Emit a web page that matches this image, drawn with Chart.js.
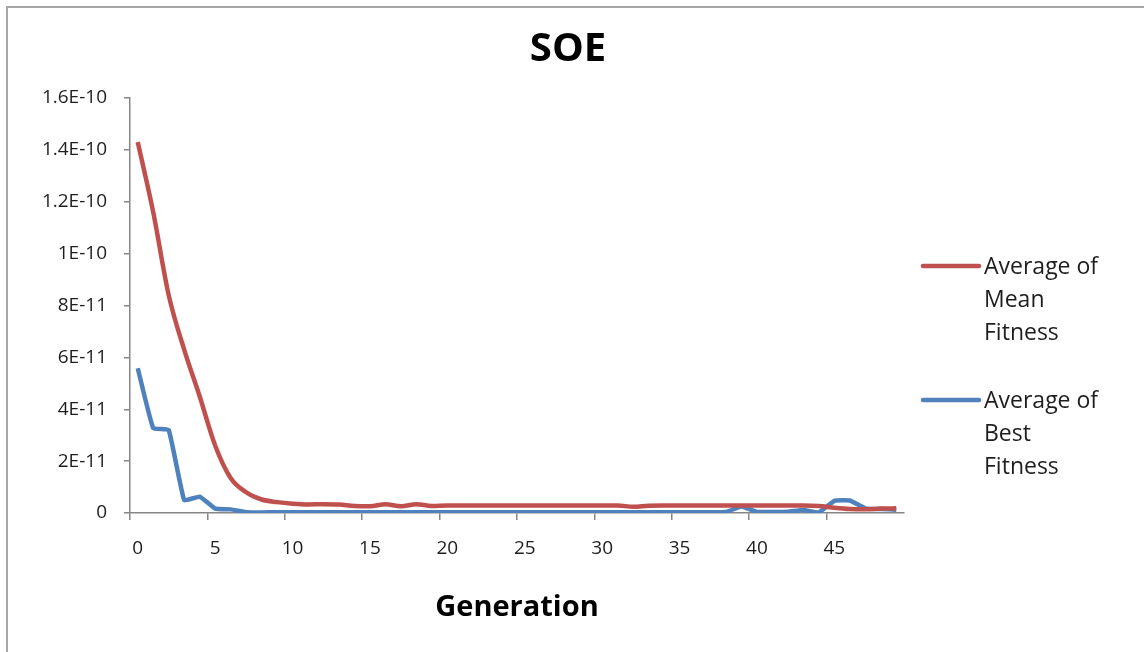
<!DOCTYPE html>
<html>
<head>
<meta charset="utf-8">
<title>SOE</title>
<script src="https://cdn.jsdelivr.net/npm/chart.js@4/dist/chart.umd.min.js"></script>
<style>
  html, body { margin: 0; padding: 0; background: #fff; overflow: hidden; }
  #frame {
    position: absolute; left: 6px; top: 6px; width: 1200px; height: 700px;
    border: 2px solid #a6a6a6; box-sizing: border-box;
  }
  #wrap { position: absolute; left: 0; top: 0; width: 1144px; height: 652px; }
  #soeChart { display: block; }
</style>
</head>
<body>
<div id="frame"></div>
<div id="wrap"><canvas id="soeChart" width="1144" height="652"></canvas></div>
<script>
const chartTitle = "SOE";
const generations = Array.from({ length: 50 }, (_, i) => String(i));

const meanFitness = [
  14.3e-11, 11.6e-11, 8.4e-11, 6.3e-11, 4.5e-11, 2.6e-11, 1.35e-11, 0.8e-11, 0.52e-11, 0.42e-11,
  0.36e-11, 0.33e-11, 0.34e-11, 0.33e-11, 0.27e-11, 0.26e-11, 0.34e-11, 0.26e-11, 0.34e-11, 0.27e-11,
  0.29e-11, 0.29e-11, 0.29e-11, 0.29e-11, 0.29e-11, 0.29e-11, 0.29e-11, 0.29e-11, 0.29e-11, 0.29e-11,
  0.29e-11, 0.29e-11, 0.24e-11, 0.28e-11, 0.29e-11, 0.29e-11, 0.29e-11, 0.29e-11, 0.29e-11, 0.29e-11,
  0.29e-11, 0.29e-11, 0.29e-11, 0.29e-11, 0.27e-11, 0.2e-11, 0.15e-11, 0.14e-11, 0.17e-11, 0.18e-11,
];

const bestFitness = [
  5.58e-11, 3.27e-11, 3.2e-11, 0.5e-11, 0.63e-11, 0.17e-11, 0.14e-11, 0.03e-11, 0.02e-11, 0.03e-11,
  0.03e-11, 0.03e-11, 0.03e-11, 0.03e-11, 0.03e-11, 0.03e-11, 0.03e-11, 0.03e-11, 0.03e-11, 0.03e-11,
  0.03e-11, 0.03e-11, 0.03e-11, 0.03e-11, 0.03e-11, 0.03e-11, 0.03e-11, 0.03e-11, 0.03e-11, 0.03e-11,
  0.03e-11, 0.03e-11, 0.03e-11, 0.03e-11, 0.03e-11, 0.03e-11, 0.03e-11, 0.03e-11, 0.04e-11, 0.25e-11,
  0.04e-11, 0.04e-11, 0.05e-11, 0.12e-11, 0.02e-11, 0.47e-11, 0.48e-11, 0.18e-11, 0.15e-11, 0.13e-11,
];

const yTickLabels = ["0", "2E-11", "4E-11", "6E-11", "8E-11", "1E-10", "1.2E-10", "1.4E-10", "1.6E-10"];
const legendLines = [
  ["Average of", "Mean", "Fitness"],
  ["Average of", "Best", "Fitness"],
];

const FONT = "'Open Sans', 'Liberation Sans', sans-serif";
const AXIS_GRAY = "#868686";

// title centred on the whole canvas + legend on the right with wrapped text
const titleAndLegend = {
  id: "titleAndLegend",
  afterDraw(chart) {
    const { ctx, chartArea, width } = chart;
    ctx.save();
    ctx.font = `bold 40px ${FONT}`;
    ctx.fillStyle = "#000";
    ctx.textAlign = "center";
    ctx.textBaseline = "middle";
    ctx.fillText(chartTitle, width / 2 - 4, 50);

    const lineX = chartArea.right + 19;
    const textX = chartArea.right + 80;
    const blockTops = [chartArea.top + 176, chartArea.top + 310];
    ctx.font = `23px ${FONT}`;
    ctx.fillStyle = "#1e1e1e";
    ctx.textAlign = "left";
    ctx.textBaseline = "alphabetic";
    chart.data.datasets.forEach((ds, i) => {
      const base = blockTops[i];
      ctx.strokeStyle = ds.borderColor;
      ctx.lineWidth = 4.5;
      ctx.lineCap = "round";
      ctx.beginPath();
      ctx.moveTo(lineX, base - 8);
      ctx.lineTo(lineX + 56, base - 8);
      ctx.stroke();
      legendLines[i].forEach((line, j) => {
        ctx.fillText(line, textX, base + j * 33);
      });
    });
    ctx.restore();
  },
};

new Chart(document.getElementById("soeChart"), {
  type: "line",
  data: {
    labels: generations,
    datasets: [
      {
        label: "Average of Mean Fitness",
        data: meanFitness,
        borderColor: "#C0504D",
        borderWidth: 4.5,
        cubicInterpolationMode: "monotone",
        pointRadius: 0,
      },
      {
        label: "Average of Best Fitness",
        data: bestFitness,
        borderColor: "#4F81BD",
        borderWidth: 4.5,
        tension: 0.1,
        borderJoinStyle: "round",
        pointRadius: 0,
      },
    ],
  },
  options: {
    responsive: false,
    animation: false,
    devicePixelRatio: 1,
    layout: { padding: { left: 0, right: 240, top: 98, bottom: 27 } },
    plugins: {
      legend: { display: false },
      tooltip: { enabled: false },
      title: { display: false },
    },
    scales: {
      x: {
        type: "category",
        offset: true,
        border: { display: true, color: AXIS_GRAY, width: 1.5 },
        grid: {
          offset: true,
          drawOnChartArea: false,
          drawTicks: true,
          tickLength: 7,
          lineWidth: 1.5,
          color: (ctx) => (ctx.index % 5 === 0 ? AXIS_GRAY : "rgba(0,0,0,0)"),
        },
        ticks: {
          autoSkip: false,
          maxRotation: 0,
          padding: 17,
          color: "#1e1e1e",
          font: { family: FONT, size: 19 },
          callback: (val, i) => (i % 5 === 0 ? generations[i] : ""),
        },
        title: {
          display: true,
          text: "Generation",
          color: "#000",
          font: { family: FONT, size: 29, weight: "bold", lineHeight: 1.2 },
          padding: { top: 0, bottom: 0 },
        },
        afterFit: (scale) => { scale.height = 112; },
      },
      y: {
        min: 0,
        max: 1.6e-10,
        border: { display: true, color: AXIS_GRAY, width: 1.5 },
        grid: {
          drawOnChartArea: false,
          drawTicks: true,
          tickLength: 6,
          lineWidth: 1.5,
          color: AXIS_GRAY,
        },
        ticks: {
          stepSize: 2e-11,
          padding: 17,
          color: "#1e1e1e",
          font: { family: FONT, size: 19 },
          callback: (val, i) => yTickLabels[i],
        },
        afterFit: (scale) => { scale.width = 130; },
      },
    },
  },
  plugins: [titleAndLegend],
});
</script>
</body>
</html>
